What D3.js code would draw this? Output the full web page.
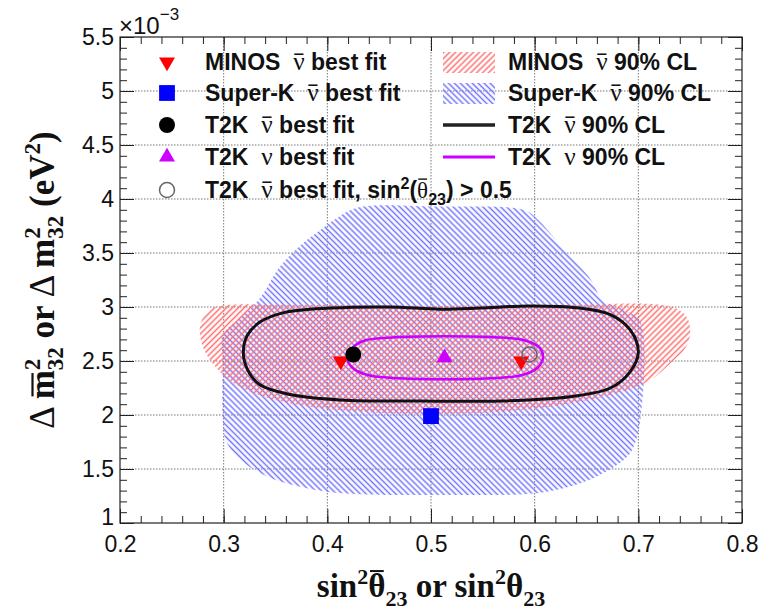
<!DOCTYPE html>
<html>
<head>
<meta charset="utf-8">
<script src="https://cdn.jsdelivr.net/npm/d3@7"></script>
<style>
body { margin: 0; background: #fff; }
text { white-space: pre; }
</style>
</head>
<body>
<div id="wrapper"></div>
<script>
// x = sin^2(theta23), y = dm2_32 in units of 1e-3 eV^2
const superKContour = [
    [0.429, 3.92], [0.509, 3.93], [0.589, 3.90], [0.602, 3.82], [0.631, 3.50],
    [0.653, 3.27], [0.666, 3.06], [0.687, 2.97], [0.702, 2.86], [0.702, 1.95],
    [0.696, 1.72], [0.689, 1.61], [0.660, 1.43], [0.612, 1.29], [0.499, 1.26],
    [0.422, 1.27], [0.386, 1.31], [0.342, 1.43], [0.313, 1.61], [0.302, 1.77],
    [0.299, 1.98], [0.299, 2.51], [0.299, 2.74], [0.316, 2.90], [0.335, 3.08],
    [0.354, 3.37], [0.374, 3.57], [0.393, 3.71], [0.407, 3.81]
];
const minosContour = [
    [0.277, 2.81], [0.282, 2.93], [0.292, 3.00], [0.374, 3.02], [0.499, 3.01],
    [0.624, 3.02], [0.733, 3.00], [0.747, 2.90], [0.750, 2.76], [0.746, 2.63],
    [0.731, 2.48], [0.711, 2.32], [0.682, 2.21], [0.624, 2.09], [0.567, 2.03],
    [0.499, 2.01], [0.432, 2.03], [0.374, 2.09], [0.330, 2.20], [0.306, 2.32],
    [0.290, 2.47], [0.280, 2.63]
];
const t2kAntiContour = [
    [0.319, 2.58], [0.323, 2.74], [0.335, 2.86], [0.359, 2.95], [0.403, 2.99],
    [0.460, 3.00], [0.509, 2.98], [0.547, 2.99], [0.595, 3.01], [0.644, 2.99],
    [0.673, 2.93], [0.692, 2.79], [0.700, 2.58], [0.692, 2.40], [0.673, 2.25],
    [0.634, 2.17], [0.567, 2.13], [0.489, 2.13], [0.412, 2.14], [0.364, 2.19],
    [0.335, 2.28], [0.323, 2.42]
];
const t2kNuContour = [
    [0.419, 2.53], [0.424, 2.62], [0.436, 2.69], [0.465, 2.72], [0.513, 2.73],
    [0.562, 2.72], [0.591, 2.69], [0.605, 2.62], [0.608, 2.53], [0.603, 2.44],
    [0.588, 2.37], [0.557, 2.34], [0.513, 2.33], [0.470, 2.34], [0.439, 2.37],
    [0.424, 2.44]
];

const minosBest = [[0.413, 2.50], [0.587, 2.50]];
const superKBest = [[0.500, 1.99]];
const t2kAntiBest = [[0.425, 2.56]];
const t2kNuBest = [[0.513, 2.53]];
const t2kAntiUpperBest = [[0.595, 2.56]];

const xMajorTicks = [0.2, 0.3, 0.4, 0.5, 0.6, 0.7, 0.8];
const yMajorTicks = [1, 1.5, 2, 2.5, 3, 3.5, 4, 4.5, 5, 5.5];

// legend labels, each as pieces: [text, kind]
const legendMarkers = [
    [["MINOS  ", "b"], ["ν", "bar"], [" best fit", "b"]],
    [["Super-K  ", "b"], ["ν", "bar"], [" best fit", "b"]],
    [["T2K  ", "b"], ["ν", "bar"], [" best fit", "b"]],
    [["T2K  ", "b"], ["ν", "nu"], [" best fit", "b"]],
    [["T2K  ", "b"], ["ν", "bar"], [" best fit, sin", "b"], ["2", "sup"], ["(", "b"], ["θ", "thbar"], ["23", "sub"], [") > 0.5", "b"]],
];
const legendRegions = [
    [["MINOS  ", "b"], ["ν", "bar"], [" 90% CL", "b"]],
    [["Super-K  ", "b"], ["ν", "bar"], [" 90% CL", "b"]],
    [["T2K  ", "b"], ["ν", "bar"], [" 90% CL", "b"]],
    [["T2K  ", "b"], ["ν", "nu"], [" 90% CL", "b"]],
];

const sansFont = "'Liberation Sans', Arial, Helvetica, sans-serif";
const serifFont = "'Liberation Serif', 'Times New Roman', serif";

function drawChart() {
    let dimensions = {
        width: 763,
        height: 610,
        margin: { top: 37, right: 21, bottom: 87, left: 120 },
    };
    dimensions = {
        ...dimensions,
        boundedWidth: dimensions.width - dimensions.margin.left - dimensions.margin.right,
        boundedHeight: dimensions.height - dimensions.margin.top - dimensions.margin.bottom,
    };

    const svg = d3.select("#wrapper").append("svg")
        .attr("width", dimensions.width)
        .attr("height", dimensions.height)
        .style("font-family", sansFont);

    const defs = svg.append("defs");
    const hatch = (id, color, angle) => {
        const p = defs.append("pattern")
            .attr("id", id)
            .attr("patternUnits", "userSpaceOnUse")
            .attr("width", 4.2).attr("height", 4.2)
            .attr("patternTransform", `rotate(${angle})`);
        p.append("line")
            .attr("x1", 2.1).attr("y1", 0).attr("x2", 2.1).attr("y2", 4.2)
            .attr("stroke", color).attr("stroke-width", 1.5);
    };
    hatch("hatchRed", "#ff7070", 45);
    hatch("hatchBlue", "#7575ff", -45);

    const bounds = svg.append("g")
        .attr("transform", `translate(${dimensions.margin.left},${dimensions.margin.top})`);

    const xScale = d3.scaleLinear().domain([0.2, 0.8]).range([0, dimensions.boundedWidth]);
    const yScale = d3.scaleLinear().domain([1, 5.5]).range([dimensions.boundedHeight, 0]);

    // grid
    bounds.append("g").selectAll("line")
        .data(xMajorTicks.slice(1, -1))
        .join("line")
        .attr("x1", d => xScale(d)).attr("x2", d => xScale(d))
        .attr("y1", 0).attr("y2", dimensions.boundedHeight)
        .attr("stroke", "#777").attr("stroke-dasharray", "1.5,1.5");
    bounds.append("g").selectAll("line")
        .data(yMajorTicks.slice(1, -1))
        .join("line")
        .attr("y1", d => yScale(d)).attr("y2", d => yScale(d))
        .attr("x1", 0).attr("x2", dimensions.boundedWidth)
        .attr("stroke", "#777").attr("stroke-dasharray", "1.5,1.5");

    const area = d3.line()
        .x(d => xScale(d[0]))
        .y(d => yScale(d[1]))
        .curve(d3.curveCatmullRomClosed);

    bounds.append("path").attr("d", area(superKContour)).attr("fill", "url(#hatchBlue)");
    bounds.append("path").attr("d", area(minosContour)).attr("fill", "url(#hatchRed)");
    bounds.append("path").attr("d", area(t2kAntiContour))
        .attr("fill", "none").attr("stroke", "#111").attr("stroke-width", 3);
    bounds.append("path").attr("d", area(t2kNuContour))
        .attr("fill", "none").attr("stroke", "#cc00ff").attr("stroke-width", 2.5);

    // best fit points
    const tri = d3.symbol(d3.symbolTriangle, 110);
    const sq = d3.symbol(d3.symbolSquare, 250);
    bounds.selectAll(".minos").data(minosBest).join("path")
        .attr("d", tri())
        .attr("transform", d => `translate(${xScale(d[0])},${yScale(d[1])}) rotate(180)`)
        .attr("fill", "#ff0000");
    bounds.selectAll(".superk").data(superKBest).join("path")
        .attr("d", sq())
        .attr("transform", d => `translate(${xScale(d[0])},${yScale(d[1])})`)
        .attr("fill", "#0000ff");
    bounds.selectAll(".t2knu").data(t2kNuBest).join("path")
        .attr("d", tri())
        .attr("transform", d => `translate(${xScale(d[0])},${yScale(d[1])})`)
        .attr("fill", "#cc00ff");
    bounds.selectAll(".t2kanti").data(t2kAntiBest).join("circle")
        .attr("cx", d => xScale(d[0])).attr("cy", d => yScale(d[1]))
        .attr("r", 8).attr("fill", "#000");
    bounds.selectAll(".t2kupper").data(t2kAntiUpperBest).join("circle")
        .attr("cx", d => xScale(d[0])).attr("cy", d => yScale(d[1]))
        .attr("r", 7.5).attr("fill", "none").attr("stroke", "#666").attr("stroke-width", 1.5);

    // axes, ticks inside the frame on all four sides
    const fmt = d3.format("~g");
    const xMinor = d3.range(0, 31).map(i => 0.2 + i * 0.02);
    const yMinor = d3.range(0, 46).map(i => 1 + i * 0.1);

    const styleAxis = g => {
        g.attr("font-family", sansFont).attr("font-size", 23);
        g.select(".domain").remove();
        g.selectAll(".tick line").attr("stroke", "#222");
        g.selectAll("text").attr("fill", "#111");
    };

    bounds.append("g")
        .attr("transform", `translate(0,${dimensions.boundedHeight})`)
        .call(d3.axisBottom(xScale).tickValues(xMinor).tickFormat("").tickSize(-7))
        .call(styleAxis);
    bounds.append("g")
        .attr("transform", `translate(0,${dimensions.boundedHeight})`)
        .call(d3.axisBottom(xScale).tickValues(xMajorTicks).tickFormat(fmt).tickSize(-14).tickPadding(13))
        .call(styleAxis);
    bounds.append("g")
        .call(d3.axisTop(xScale).tickValues(xMinor).tickFormat("").tickSize(-7))
        .call(styleAxis);
    bounds.append("g")
        .call(d3.axisTop(xScale).tickValues(xMajorTicks).tickFormat("").tickSize(-14))
        .call(styleAxis);

    bounds.append("g")
        .call(d3.axisLeft(yScale).tickValues(yMinor).tickFormat("").tickSize(-7))
        .call(styleAxis);
    bounds.append("g")
        .call(d3.axisLeft(yScale).tickValues(yMajorTicks).tickFormat(fmt).tickSize(-14).tickPadding(6))
        .call(styleAxis)
        .call(g => g.selectAll(".tick text").filter(d => d === 1).attr("dy", "0.05em"));
    bounds.append("g")
        .attr("transform", `translate(${dimensions.boundedWidth},0)`)
        .call(d3.axisRight(yScale).tickValues(yMinor).tickFormat("").tickSize(-7))
        .call(styleAxis);
    bounds.append("g")
        .attr("transform", `translate(${dimensions.boundedWidth},0)`)
        .call(d3.axisRight(yScale).tickValues(yMajorTicks).tickFormat("").tickSize(-14))
        .call(styleAxis);

    bounds.append("rect")
        .attr("width", dimensions.boundedWidth).attr("height", dimensions.boundedHeight)
        .attr("fill", "none").attr("stroke", "#222").attr("stroke-width", 1.2);

    // exponent
    const expo = svg.append("text").attr("x", 119).attr("y", 34).attr("fill", "#111");
    expo.append("tspan").text("×10").style("font-size", "24px");
    expo.append("tspan").text("−3").attr("dy", -14).style("font-size", "17px");

    // overbars collected here and drawn after text is laid out
    const bars = [];

    // rich text helper
    const addPieces = (text, pieces, size) => {
        let shift = 0;
        let idx = 0;
        pieces.forEach(([t, kind]) => {
            const ts = text.append("tspan").text(t);
            let dy = 0;
            if (kind === "b") {
                ts.style("font-weight", "bold");
            } else if (kind === "bar" || kind === "nu") {
                ts.style("font-family", serifFont).style("font-size", `${size * 1.1}px`);
                if (kind === "bar") bars.push({ node: text.node(), idx, lift: size * 0.66, w: 1.6 });
            } else if (kind === "thbar") {
                ts.style("font-family", serifFont);
                bars.push({ node: text.node(), idx, lift: size * 0.82, w: 1.4 });
            } else if (kind === "sup") {
                ts.style("font-weight", "bold").style("font-size", `${size * 0.7}px`);
                dy = -size * 0.4;
            } else if (kind === "sub") {
                ts.style("font-weight", "bold").style("font-size", `${size * 0.7}px`);
                dy = size * 0.3;
            }
            ts.attr("dy", dy - shift);
            shift = dy;
            idx += t.length;
        });
    };

    // legend
    const legendY = [62, 93, 125, 157, 190];
    const legendFont = 23;
    legendMarkers.forEach((pieces, i) => {
        const t = svg.append("text")
            .attr("x", 205).attr("y", legendY[i] + 8)
            .attr("fill", "#111").style("font-size", `${legendFont}px`);
        addPieces(t, pieces, legendFont);
    });
    const lx = 167;
    svg.append("path").attr("d", tri()).attr("transform", `translate(${lx},${legendY[0]}) rotate(180)`).attr("fill", "#ff0000");
    svg.append("path").attr("d", sq()).attr("transform", `translate(${lx},${legendY[1]})`).attr("fill", "#0000ff");
    svg.append("circle").attr("cx", lx).attr("cy", legendY[2]).attr("r", 8).attr("fill", "#000");
    svg.append("path").attr("d", tri()).attr("transform", `translate(${lx},${legendY[3]})`).attr("fill", "#cc00ff");
    svg.append("circle").attr("cx", lx).attr("cy", legendY[4]).attr("r", 7.5)
        .attr("fill", "none").attr("stroke", "#666").attr("stroke-width", 1.5);

    legendRegions.forEach((pieces, i) => {
        const t = svg.append("text")
            .attr("x", 508).attr("y", legendY[i] + 8)
            .attr("fill", "#111").style("font-size", `${legendFont}px`);
        addPieces(t, pieces, legendFont);
    });
    svg.append("rect").attr("x", 443).attr("y", legendY[0] - 10).attr("width", 52).attr("height", 21).attr("fill", "url(#hatchRed)");
    svg.append("rect").attr("x", 443).attr("y", legendY[1] - 10).attr("width", 52).attr("height", 21).attr("fill", "url(#hatchBlue)");
    svg.append("line").attr("x1", 443).attr("x2", 495).attr("y1", legendY[2]).attr("y2", legendY[2])
        .attr("stroke", "#222").attr("stroke-width", 3.5);
    svg.append("line").attr("x1", 443).attr("x2", 495).attr("y1", legendY[3]).attr("y2", legendY[3])
        .attr("stroke", "#cc00ff").attr("stroke-width", 3);

    // axis titles
    const xt = svg.append("text")
        .attr("x", 431).attr("y", 597).attr("text-anchor", "middle")
        .attr("fill", "#111").style("font-family", serifFont).style("font-weight", "bold").style("font-size", "33px");
    xt.append("tspan").text("sin");
    xt.append("tspan").text("2").attr("dy", -13).style("font-size", "22px");
    xt.append("tspan").text("θ").attr("dy", 13);
    xt.append("tspan").text("23").attr("dy", 9).style("font-size", "22px");
    xt.append("tspan").text(" or sin").attr("dy", -9);
    xt.append("tspan").text("2").attr("dy", -13).style("font-size", "22px");
    xt.append("tspan").text("θ").attr("dy", 13);
    xt.append("tspan").text("23").attr("dy", 9).style("font-size", "22px");
    bars.push({ node: xt.node(), idx: 4, lift: 33 * 0.78, w: 2 });

    const yt = svg.append("text")
        .attr("transform", "translate(54,280) rotate(-90)")
        .attr("text-anchor", "middle")
        .attr("fill", "#111").style("font-family", serifFont).style("font-weight", "bold").style("font-size", "35px");
    yt.append("tspan").text("Δ ").style("font-weight", "normal");
    yt.append("tspan").text("m");
    yt.append("tspan").text("2").attr("dy", -14).style("font-size", "23px");
    yt.append("tspan").text("32").attr("dx", -11.5).attr("dy", 23).style("font-size", "23px");
    yt.append("tspan").text(" or ").attr("dy", -9);
    yt.append("tspan").text("Δ ").style("font-weight", "normal");
    yt.append("tspan").text("m");
    yt.append("tspan").text("2").attr("dy", -14).style("font-size", "23px");
    yt.append("tspan").text("32").attr("dx", -11.5).attr("dy", 23).style("font-size", "23px");
    yt.append("tspan").text(" (eV").attr("dy", -9);
    yt.append("tspan").text("2").attr("dy", -14).style("font-size", "23px");
    yt.append("tspan").text(")").attr("dy", 14);
    bars.push({ node: yt.node(), idx: 2, lift: 35 * 0.62, w: 2.2 });

    // draw overbars in each text's own coordinate frame
    bars.forEach(b => {
        const box = b.node.getExtentOfChar(b.idx);
        const baseY = box.y + box.height * 0.8;
        const parent = d3.select(b.node.parentNode);
        parent.append("line")
            .attr("transform", b.node.getAttribute("transform"))
            .attr("x1", box.x + box.width * 0.1).attr("x2", box.x + box.width * 0.9)
            .attr("y1", baseY - b.lift).attr("y2", baseY - b.lift)
            .attr("stroke", "#111").attr("stroke-width", b.w);
    });
}

drawChart();
</script>
</body>
</html>
